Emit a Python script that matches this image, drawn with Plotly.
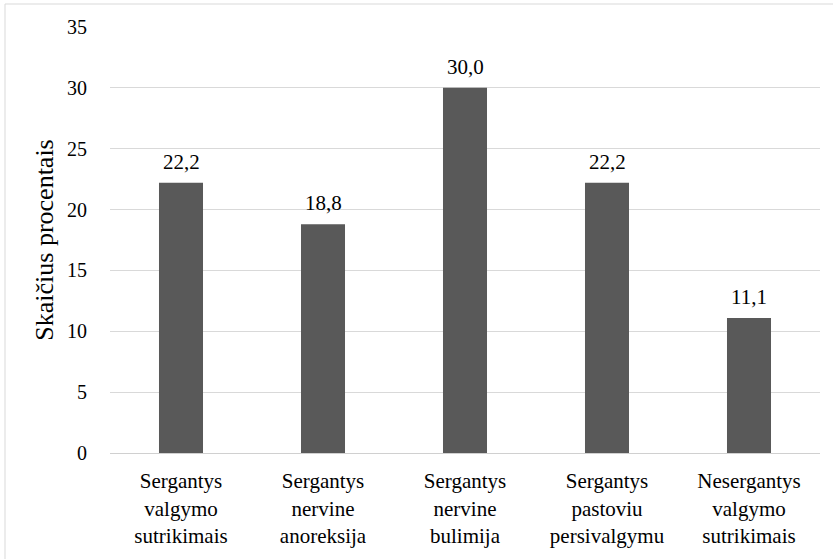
import plotly.graph_objects as go

categories = [
    "Sergantys<br>valgymo<br>sutrikimais",
    "Sergantys<br>nervine<br>anoreksija",
    "Sergantys<br>nervine<br>bulimija",
    "Sergantys<br>pastoviu<br>persivalgymu",
    "Nesergantys<br>valgymo<br>sutrikimais",
]
values = [22.2, 18.8, 30.0, 22.2, 11.1]
y_ticks = [0, 5, 10, 15, 20, 25, 30, 35]

FONT = "'Liberation Serif', 'Times New Roman', serif"

L, R, T, B = 110, 13, 27, 106
W, H = 833, 559
pw = W - L - R
ph = H - T - B

fig = go.Figure(
    go.Bar(
        x=categories,
        y=values,
        marker=dict(color="#595959", line=dict(width=0)),
        hoverinfo="x+y",
    )
)

# value labels above bars, positioned from the data
for c, v in zip(categories, values):
    fig.add_annotation(
        x=c, y=v, xref="x", yref="y",
        text=f"{v:.1f}".replace(".", ","),
        showarrow=False, yanchor="bottom", yshift=7,
        font=dict(family=FONT, size=21, color="#000000"),
    )

fig.update_layout(
    width=W,
    height=H,
    margin=dict(l=L, r=R, t=T, b=B),
    paper_bgcolor="white",
    plot_bgcolor="white",
    separators=", ",
    bargap=0.69,
    showlegend=False,
    font=dict(family=FONT, color="#000000"),
)

fig.update_xaxes(
    showgrid=False,
    showline=True,
    linecolor="#d0d0d0",
    linewidth=1,
    ticks="",
    ticklabelstandoff=9,
    tickfont=dict(family=FONT, size=21, color="#000000"),
)

fig.update_yaxes(
    range=[0, 35],
    tickvals=y_ticks,
    showgrid=True,
    gridcolor="#d9d9d9",
    gridwidth=1,
    zeroline=False,
    showline=False,
    ticks="",
    ticklabelstandoff=22,
    tickfont=dict(family=FONT, size=20, color="#000000"),
    title=dict(text="Skaičius procentais", font=dict(family=FONT, size=26, color="#000000"), standoff=5),
)

# outer border (left and top edges visible)
bx = (5 - L) / pw
by = (H - B - 4) / ph
bottom = (H - B - H) / ph
right = (W - L) / pw
fig.add_shape(type="line", xref="paper", yref="paper", x0=bx, x1=bx, y0=bottom, y1=by,
              line=dict(color="#d9d9d9", width=1))
fig.add_shape(type="line", xref="paper", yref="paper", x0=bx, x1=right, y0=by, y1=by,
              line=dict(color="#d9d9d9", width=1))

fig.write_html("out.html", config={"displayModeBar": False},
               post_script="document.body.style.margin='0px';")
